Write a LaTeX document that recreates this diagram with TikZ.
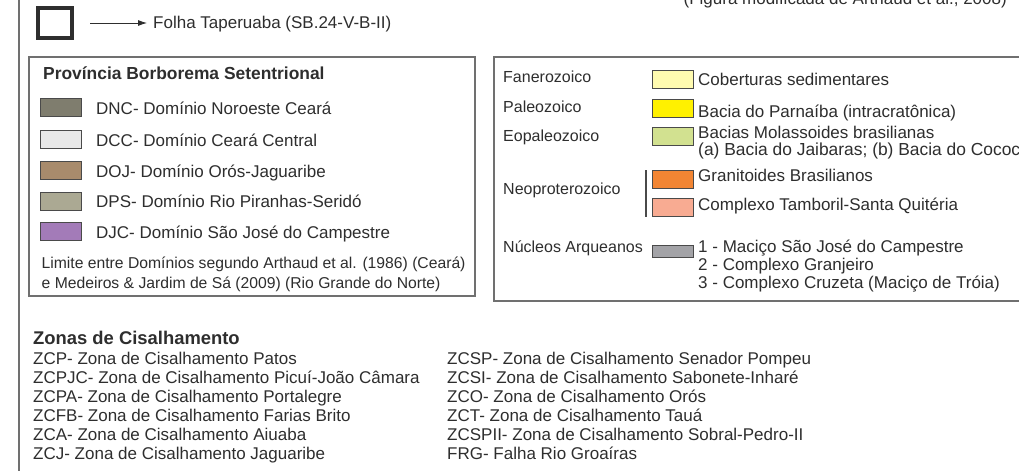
\documentclass[tikz,border=0pt]{standalone}
\usepackage{fontspec}
\setmainfont{Liberation Sans}
\usetikzlibrary{arrows.meta}

\definecolor{inchiostro}{HTML}{2E2E2E}
\definecolor{filo}{HTML}{707070}
\definecolor{bordo}{HTML}{4A4A4A}
\definecolor{dnc}{HTML}{7F7D6E}
\definecolor{dcc}{HTML}{E8E8E8}
\definecolor{doj}{HTML}{A88B6C}
\definecolor{dps}{HTML}{ABA993}
\definecolor{djc}{HTML}{A37BB8}
\definecolor{cob}{HTML}{FFFBB0}
\definecolor{par}{HTML}{FFF100}
\definecolor{mol}{HTML}{D2E190}
\definecolor{gra}{HTML}{F28533}
\definecolor{tam}{HTML}{F8AB92}
\definecolor{nuc}{HTML}{A3A3A7}

\begin{document}
\begin{tikzpicture}[x=1pt, y=-1pt,
    every node/.style={inner sep=0pt, text=inchiostro},
    testo/.style={anchor=base west, font=\fontsize{17}{20}\selectfont},
    piccolo/.style={anchor=base west, font=\fontsize{15.7}{18}\selectfont},
    voce/.style={anchor=base west, font=\fontsize{17}{19}\selectfont},
    era/.style={anchor=base west, font=\fontsize{16}{19}\selectfont},
    titolo/.style={anchor=base west, font=\bfseries\fontsize{17.4}{20}\selectfont},
    cella/.style={draw=bordo, line width=1pt, minimum width=41pt, minimum height=18pt},
    cornice/.style={draw=filo, line width=1.3pt}]
      \fill[white] (0,0) rectangle (1019,471);
      \useasboundingbox (0,0) rectangle (1019,471);
      \clip (0,0) rectangle (1019,471);
      \draw[filo, line width=1.5pt] (19,0) -- (19,471);

      % Intestazione
      \node (quad) at (55,23) [draw=inchiostro, line width=4pt, minimum width=34pt, minimum height=30pt] {};
      \node (folha) at (153,28) [testo] {Folha Taperuaba (SB.24-V-B-II)};
      \draw[inchiostro, line width=0.8pt, -{Latex[length=9pt,width=6pt]}, shorten <=16pt, shorten >=6pt]
        (quad.east) -- (quad.east -| folha.west);
      \node (fonte) at (1007,5) [testo, anchor=base east] {(Figura modificada de Arthaud et al., 2008)};

      % Riquadro sinistro
      \draw[cornice] (29,57) rectangle (475,296);
      \node (prov) at (43,79) [titolo] {Província Borborema Setentrional};
      \node (dnc) at (60.5,107.5) [cella, fill=dnc] {};
      \node (dcc) at (60.5,139.5) [cella, fill=dcc] {};
      \node (doj) at (60.5,170.5) [cella, fill=doj] {};
      \node (dps) at (60.5,201) [cella, fill=dps] {};
      \node (djc) at (60.5,231.5) [cella, fill=djc] {};
      \node (tdnc) at (96,114) [testo] {DNC- Domínio Noroeste Ceará};
      \node (tdcc) at (96,146) [testo] {DCC- Domínio Ceará Central};
      \node (tdoj) at (96,177) [testo] {DOJ- Domínio Orós-Jaguaribe};
      \node (tdps) at (96,207.5) [testo] {DPS- Domínio Rio Piranhas-Seridó};
      \node (tdjc) at (96,238) [testo] {DJC- Domínio São José do Campestre};
      \node (lim1) at (41.5,268) [piccolo] {Limite entre Domínios segundo Arthaud et al. (1986) (Ceará)};
      \node (lim2) at (41.5,288) [piccolo] {e Medeiros \& Jardim de Sá (2009) (Rio Grande do Norte)};

      % Riquadro destro
      \draw[cornice] (494,57) rectangle (1030,301);
      \node (fan) at (503,82) [era] {Fanerozoico};
      \node (pal) at (503,112) [era] {Paleozoico};
      \node (eop) at (503,141) [era] {Eopaleozoico};
      \node (neo) at (503,194) [era] {Neoproterozoico};
      \node (arq) at (503,252) [era] {Núcleos Arqueanos};
      \draw[bordo, line width=1.8pt] (646,170) -- (646,217);

      \node (cob) at (672.5,79) [cella, fill=cob] {};
      \node (par) at (672.5,108) [cella, fill=par] {};
      \node (mol) at (672.5,136.5) [cella, fill=mol] {};
      \node (gra) at (672.5,179) [cella, fill=gra] {};
      \node (tam) at (672.5,207) [cella, fill=tam] {};
      \node (nuc) at (672.5,251) [cella, fill=nuc, minimum height=12pt] {};
      \node (tcob) at (698,85) [voce] {Coberturas sedimentares};
      \node (tpar) at (698,117) [voce] {Bacia do Parnaíba (intracratônica)};
      \node (tmol) at (698,138) [voce] {Bacias Molassoides brasilianas};
      \node (tmol2) at (698,155) [voce, font=\fontsize{17.4}{19}\selectfont] {(a) Bacia do Jaibaras; (b) Bacia do Cococi)};
      \node (tgra) at (698,181) [voce] {Granitoides Brasilianos};
      \node (ttam) at (698,210) [voce] {Complexo Tamboril-Santa Quitéria};
      \node (tnuc1) at (698,252) [voce] {1 - Maciço São José do Campestre};
      \node (tnuc2) at (698,270) [voce] {2 - Complexo Granjeiro};
      \node (tnuc3) at (698,288) [voce] {3 - Complexo Cruzeta (Maciço de Tróia)};

      % Zone di taglio
      \node (zonas) at (33,344) [titolo, font=\bfseries\fontsize{18.4}{21}\selectfont] {Zonas de Cisalhamento};
      \node (zcp) at (33,364) [testo] {ZCP- Zona de Cisalhamento Patos};
      \node (zcpjc) at (33,383) [testo] {ZCPJC- Zona de Cisalhamento Picuí-João Câmara};
      \node (zcpa) at (33,402) [testo] {ZCPA- Zona de Cisalhamento Portalegre};
      \node (zcfb) at (33,421) [testo] {ZCFB- Zona de Cisalhamento Farias Brito};
      \node (zca) at (33,440) [testo] {ZCA- Zona de Cisalhamento Aiuaba};
      \node (zcj) at (33,459) [testo] {ZCJ- Zona de Cisalhamento Jaguaribe};
      \node (zcsp) at (447,364) [testo] {ZCSP- Zona de Cisalhamento Senador Pompeu};
      \node (zcsi) at (447,383) [testo] {ZCSI- Zona de Cisalhamento Sabonete-Inharé};
      \node (zco) at (447,402) [testo] {ZCO- Zona de Cisalhamento Orós};
      \node (zct) at (447,421) [testo] {ZCT- Zona de Cisalhamento Tauá};
      \node (zcspii) at (447,440) [testo] {ZCSPII- Zona de Cisalhamento Sobral-Pedro-II};
      \node (frg) at (447,459) [testo] {FRG- Falha Rio Groaíras};
    \end{tikzpicture}
\end{document}
